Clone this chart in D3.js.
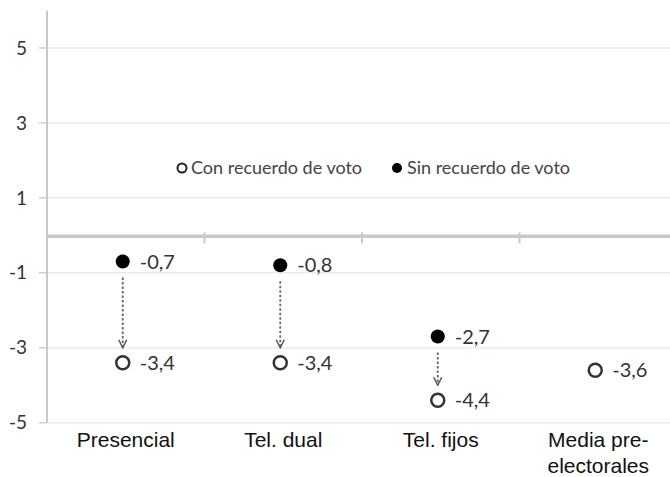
<!DOCTYPE html>
<html>
<head>
<meta charset="utf-8">
<script src="https://cdn.jsdelivr.net/npm/d3@7"></script>
<style>
  body { margin: 0; background: #fff; }
  svg { display: block; }
  .tick-label { font-family: Lato, "Open Sans", sans-serif; font-size: 19px; fill: #333; }
  .val-label { font-family: Lato, "Open Sans", sans-serif; font-size: 20px; fill: #333; }
  .cat-label { font-family: "Liberation Sans", Arial, sans-serif; font-size: 21px; fill: #111; }
  .legend-label { font-family: Lato, "Open Sans", sans-serif; font-size: 18px; fill: #444; }
</style>
</head>
<body>
<div id="graph"></div>
<script>
// categories and values
var categories = ['Presencial', 'Tel. dual', 'Tel. fijos', 'Media pre-electorales'];
var catLines = [['Presencial'], ['Tel. dual'], ['Tel. fijos'], ['Media pre-', 'electorales']];
var conRecuerdo = [-3.4, -3.4, -4.4, -3.6];
var sinRecuerdo = [-0.7, -0.8, -2.7, null];
var yTicks = [5, 3, 1, -1, -3, -5];
var legendNames = ['Con recuerdo de voto', 'Sin recuerdo de voto'];

var width = 670, height = 477;
var left = 47;

var svg = d3.select('#graph').append('svg')
    .attr('width', width)
    .attr('height', height);

var y = d3.scaleLinear().domain([-5, 6]).range([422.7, 10.5]);
var x = d3.scaleBand().domain(categories).range([left, 677]).padding(0);
var cx = d => x(d) + x.bandwidth() / 2 - 3;

// gridlines
svg.append('g').selectAll('line')
  .data(yTicks)
  .enter().append('line')
    .attr('x1', left).attr('x2', width)
    .attr('y1', d => y(d)).attr('y2', d => y(d))
    .attr('stroke', '#ebebeb').attr('stroke-width', 1.5);

// y tick marks + labels
svg.append('g').selectAll('line')
  .data(yTicks)
  .enter().append('line')
    .attr('x1', left - 8).attr('x2', left)
    .attr('y1', d => y(d)).attr('y2', d => y(d))
    .attr('stroke', '#cfcfcf').attr('stroke-width', 1.5);

svg.append('g').selectAll('text')
  .data(yTicks)
  .enter().append('text')
    .attr('class', 'tick-label')
    .attr('x', 27)
    .attr('y', d => y(d))
    .attr('dy', '0.35em')
    .attr('text-anchor', 'end')
    .text(d => d);

// y axis line
svg.append('line')
  .attr('x1', left).attr('x2', left)
  .attr('y1', y(6)).attr('y2', y(-5))
  .attr('stroke', '#c8c8c8').attr('stroke-width', 2);

// zero line (category axis)
svg.append('line')
  .attr('x1', left).attr('x2', width)
  .attr('y1', y(0) + 1).attr('y2', y(0) + 1)
  .attr('stroke', '#c9c9c9').attr('stroke-width', 3.5);

svg.append('g').selectAll('line')
  .data(categories.slice(1))
  .enter().append('line')
    .attr('x1', d => x(d)).attr('x2', d => x(d))
    .attr('y1', y(0) - 3).attr('y2', y(0) + 8)
    .attr('stroke', '#c9c9c9').attr('stroke-width', 2);

// category labels
var cat = svg.append('g').selectAll('text')
  .data(categories)
  .enter().append('text')
    .attr('class', 'cat-label')
    .attr('text-anchor', 'middle')
    .attr('x', d => x(d) + x.bandwidth() / 2)
    .attr('y', 447);
cat.selectAll('tspan')
  .data((d, i) => catLines[i])
  .enter().append('tspan')
    .attr('x', function(){ return d3.select(this.parentNode).attr('x'); })
    .attr('dy', (d, i) => i ? 26 : 0)
    .text(d => d);

// arrow marker
svg.append('defs').append('marker')
    .attr('id', 'arr')
    .attr('viewBox', '0 0 10 10')
    .attr('refX', 5).attr('refY', 9)
    .attr('markerWidth', 10).attr('markerHeight', 10)
    .attr('markerUnits', 'userSpaceOnUse')
    .attr('orient', 0)
  .append('path')
    .attr('d', 'M1,1 L5,9 L9,1')
    .attr('fill', 'none')
    .attr('stroke', '#555')
    .attr('stroke-width', 1.5);

var pairs = categories.map((c, i) => ({cat: c, from: sinRecuerdo[i], to: conRecuerdo[i]}))
  .filter(d => d.from != null);

svg.append('g').selectAll('line')
  .data(pairs)
  .enter().append('line')
    .attr('x1', d => cx(d.cat))
    .attr('x2', d => cx(d.cat))
    .attr('y1', d => y(d.from) + 16)
    .attr('y2', d => y(d.to) - 15)
    .attr('stroke', '#666')
    .attr('stroke-width', 1.8)
    .attr('stroke-dasharray', '2.5,2')
    .attr('marker-end', 'url(#arr)');

// points
var r = 6.5;
var conData = categories.map((c, i) => ({cat: c, v: conRecuerdo[i]}));
var sinData = categories.map((c, i) => ({cat: c, v: sinRecuerdo[i]})).filter(d => d.v != null);

svg.append('g').selectAll('circle')
  .data(conData)
  .enter().append('circle')
    .attr('cx', d => cx(d.cat))
    .attr('cy', d => y(d.v))
    .attr('r', r)
    .attr('fill', '#fff')
    .attr('stroke', '#333')
    .attr('stroke-width', 2.5);

svg.append('g').selectAll('circle')
  .data(sinData)
  .enter().append('circle')
    .attr('cx', d => cx(d.cat))
    .attr('cy', d => y(d.v))
    .attr('r', r + 0.5)
    .attr('fill', '#000');

// value labels
var fmt = v => String(v).replace('.', ',');
svg.append('g').selectAll('text')
  .data(conData.concat(sinData))
  .enter().append('text')
    .attr('class', 'val-label')
    .attr('x', d => cx(d.cat) + 17)
    .attr('y', d => y(d.v))
    .attr('dy', '0.35em')
    .text(d => fmt(d.v));

// legend
var lg = svg.append('g').attr('transform', 'translate(182,168)');
lg.append('circle').attr('cx', 0).attr('cy', 0).attr('r', 4.5)
  .attr('fill', '#fff').attr('stroke', '#222').attr('stroke-width', 2);
lg.append('text').attr('class', 'legend-label').attr('x', 9).attr('dy', '0.35em').text(legendNames[0]);
lg.append('circle').attr('cx', 215).attr('cy', 0).attr('r', 5).attr('fill', '#000');
lg.append('text').attr('class', 'legend-label').attr('x', 225).attr('dy', '0.35em').text(legendNames[1]);
</script>
</body>
</html>
